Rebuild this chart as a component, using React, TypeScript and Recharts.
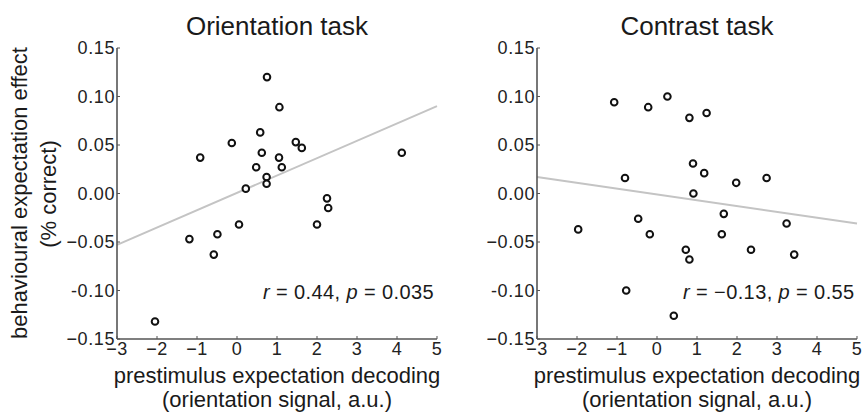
import React from 'react';
import { ScatterChart, Scatter, XAxis, YAxis, ReferenceLine } from 'recharts';

// orientation task: one point per participant
const orientX = [0.75, 1.06, 0.58, -0.13, 1.47, 1.62, -0.92, 0.62, 1.05, 0.48, 1.12, 0.74, 0.74, 0.22, 2.25, 2.28, 0.05, 2.0, -0.49, -1.19, -0.58, 4.12, -2.05];
const orientY = [0.120, 0.089, 0.063, 0.052, 0.053, 0.047, 0.037, 0.042, 0.037, 0.027, 0.027, 0.017, 0.010, 0.005, -0.005, -0.015, -0.032, -0.032, -0.042, -0.047, -0.063, 0.042, -0.132];

// contrast task
const contrastX = [-1.07, -0.22, 0.26, 0.81, 1.24, 0.9, 1.18, -0.8, 1.98, 2.74, 0.91, 1.67, -0.47, 3.24, -1.97, -0.18, 1.62, 0.72, 2.35, 0.81, 3.43, -0.77, 0.42];
const contrastY = [0.094, 0.089, 0.100, 0.078, 0.083, 0.031, 0.021, 0.016, 0.011, 0.016, 0.000, -0.021, -0.026, -0.031, -0.037, -0.042, -0.042, -0.058, -0.058, -0.068, -0.063, -0.100, -0.126];

// regression line ends
const orientFitX = [-3, 5];
const orientFitY = [-0.053, 0.090];
const contrastFitX = [-3, 5];
const contrastFitY = [0.017, -0.031];

const xTicks = [-3, -2, -1, 0, 1, 2, 3, 4, 5];
const xTickLabels = ['−3', '−2', '−1', '0', '1', '2', '3', '4', '5'];
const yTicks = [-0.15, -0.1, -0.05, 0, 0.05, 0.1, 0.15];
const yTickLabels = ['−0.15', '-0.10', '−0.05', '0.00', '0.05', '0.10', '0.15'];

const font = '"Liberation Sans", Arial, sans-serif';
const axisColor = '#555';

function Ring(props: any) {
	return <circle cx={props.cx} cy={props.cy} r={3.3} fill="#fff" stroke="#111" strokeWidth={2} />;
}

function Panel(props: any) {
	const data = props.xs.map((x: number, i: number) => ({ x: x, y: props.ys[i] }));
	const tickStyle = { fontSize: 18, fill: '#222', fontFamily: font, letterSpacing: 0.6 };
	return (
		<div style={{ position: 'absolute', left: props.left, top: 0 }}>
			<ScatterChart width={props.width} height={413} margin={{ top: 48, right: props.right, bottom: 0, left: 0 }}>
				<XAxis type="number" dataKey="x" domain={[-3, 5]} ticks={xTicks} interval={0}
					tickFormatter={(v: number, i: number) => xTickLabels[i]}
					height={74} tickSize={-3} tickMargin={6} tick={tickStyle}
					axisLine={{ stroke: axisColor, strokeWidth: 1.6 }} tickLine={{ stroke: axisColor }} />
				<YAxis type="number" dataKey="y" domain={[-0.15, 0.15]} ticks={yTicks} interval={0}
					tickFormatter={(v: number, i: number) => yTickLabels[i]}
					width={props.axisWidth} tickSize={-3} tickMargin={5} tick={tickStyle}
					axisLine={{ stroke: axisColor, strokeWidth: 1.6 }} tickLine={{ stroke: axisColor }} />
				<ReferenceLine segment={[{ x: props.fitX[0], y: props.fitY[0] }, { x: props.fitX[1], y: props.fitY[1] }]}
					stroke="#c4c4c4" strokeWidth={2} />
				<Scatter data={data} shape={Ring} isAnimationActive={false} />
			</ScatterChart>
		</div>
	);
}

export default function App() {
	const textStyle = { fontFamily: font, fill: '#1a1a1a' };
	return (
		<div style={{ position: 'absolute', left: 0, top: 0, width: 866, height: 413, background: '#fff' }}>
			<Panel left={0} width={445} right={8} axisWidth={117} xs={orientX} ys={orientY} fitX={orientFitX} fitY={orientFitY} />
			<Panel left={433} width={433} right={9} axisWidth={104} xs={contrastX} ys={contrastY} fitX={contrastFitX} fitY={contrastFitY} />
			<svg width={866} height={413} style={{ position: 'absolute', left: 0, top: 0, pointerEvents: 'none' }}>
				<g style={textStyle}>
					<text x={277} y={35} textAnchor="middle" fontSize={26}>Orientation task</text>
					<text x={697} y={35} textAnchor="middle" fontSize={26}>Contrast task</text>

					<text x={277} y={383} textAnchor="middle" fontSize={22}>prestimulus expectation decoding</text>
					<text x={277} y={407} textAnchor="middle" fontSize={22}>(orientation signal, a.u.)</text>
					<text x={697} y={383} textAnchor="middle" fontSize={22}>prestimulus expectation decoding</text>
					<text x={697} y={407} textAnchor="middle" fontSize={22}>(orientation signal, a.u.)</text>

					<text transform="translate(27,193) rotate(-90)" textAnchor="middle" fontSize={22}>behavioural expectation effect</text>
					<text transform="translate(56,194) rotate(-90)" textAnchor="middle" fontSize={22}>(% correct)</text>

					<text x={263} y={299} fontSize={20} letterSpacing={0.4}>
						<tspan fontStyle="italic">r</tspan> = 0.44, <tspan fontStyle="italic">p</tspan> = 0.035
					</text>
					<text x={683} y={299} fontSize={20} letterSpacing={0.4}>
						<tspan fontStyle="italic">r</tspan> = −0.13, <tspan fontStyle="italic">p</tspan> = 0.55
					</text>
				</g>
			</svg>
		</div>
	);
}
